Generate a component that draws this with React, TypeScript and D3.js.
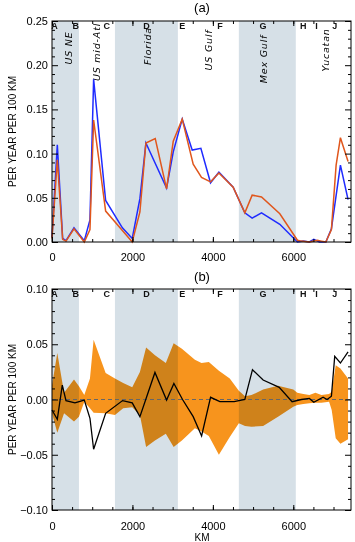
import React, { useRef, useEffect } from 'react';
import * as d3 from 'd3';

const W = 355;
const H = 542;

// panel (a): two estimates of the rate along the coast
const blueKm = [0, 132, 265, 348, 547, 803, 944, 1035, 1334, 1750, 1995, 2186, 2335, 2849, 3015, 3238, 3486, 3702, 3942, 4150, 4505, 4795, 4977, 5210, 5665, 6103, 6250, 6400, 6510, 6650, 6810, 6948, 7172, 7362];
const blueVal = [0.005, 0.110, 0.004, 0.0015, 0.016, 0.0015, 0.025, 0.184, 0.047, 0.016, 0.004, 0.049, 0.112, 0.061, 0.102, 0.139, 0.104, 0.106, 0.067, 0.079, 0.062, 0.033, 0.027, 0.033, 0.020, 0.000, 0.001, 0.0, 0.003, 0.0, 0.0, 0.015, 0.087, 0.048];
const orangeKm = [0, 132, 265, 348, 547, 803, 944, 1035, 1334, 1750, 1995, 2186, 2335, 2567, 2849, 3015, 3238, 3511, 3718, 3942, 4150, 4505, 4795, 4977, 5210, 5665, 6103, 6203, 6400, 6600, 6700, 6810, 6948, 7065, 7172, 7362];
const orangeVal = [0.004, 0.093, 0.003, 0.001, 0.015, 0.0, 0.014, 0.138, 0.035, 0.013, 0.0, 0.034, 0.112, 0.117, 0.060, 0.114, 0.139, 0.088, 0.073, 0.068, 0.078, 0.062, 0.033, 0.053, 0.051, 0.032, 0.002, 0.001, 0.0, 0.002, 0.001, 0.0, 0.014, 0.087, 0.118, 0.091];

// panel (b): difference and its uncertainty band
const diffKm = [0, 132, 256, 348, 571, 803, 944, 1035, 1334, 1755, 1995, 2186, 2560, 2849, 3031, 3246, 3511, 3720, 3943, 4174, 4530, 4795, 4985, 5250, 5650, 5970, 6203, 6400, 6510, 6741, 6840, 6948, 7030, 7172, 7362];
const diffVal = [-0.0095, -0.018, 0.013, -0.001, -0.003, -0.0005, -0.017, -0.045, -0.0125, -0.001, -0.003, -0.0155, 0.0245, -0.0005, 0.0146, 0.0, -0.0155, -0.033, 0.002, -0.002, -0.002, 0.0, 0.027, 0.0176, 0.011, -0.002, 0.0, 0.001, -0.0025, 0.002, 0.0, 0.003, 0.039, 0.033, 0.043];
const bandKm = [0, 132, 300, 547, 670, 803, 944, 1035, 1334, 1565, 1770, 1995, 2186, 2340, 2560, 2830, 3025, 3230, 3553, 3718, 3900, 4150, 4420, 4646, 4800, 4960, 5250, 5620, 6000, 6100, 6250, 6400, 6550, 6700, 6890, 6955, 7055, 7172, 7362];
const bandHi = [0.013, 0.042, 0.006, 0.018, 0.012, 0.004, 0.019, 0.054, 0.024, 0.019, 0.015, 0.011, 0.025, 0.047, 0.040, 0.033, 0.051, 0.046, 0.036, 0.033, 0.034, 0.026, 0.019, 0.008, 0.003, 0.004, 0.009, 0.0125, 0.009, 0.006, 0.005, 0.004, 0.006, 0.004, 0.005, 0.007, 0.031, 0.028, 0.019];
const bandLo = [-0.0125, -0.030, -0.0125, -0.020, -0.0155, -0.002, -0.008, -0.012, -0.0125, -0.014, -0.008, -0.007, -0.014, -0.043, -0.037, -0.031, -0.043, -0.037, -0.026, -0.029, -0.033, -0.050, -0.034, -0.0215, -0.024, -0.0246, -0.024, -0.0155, -0.0065, -0.005, -0.004, -0.0035, -0.003, -0.003, -0.002, -0.0095, -0.035, -0.040, -0.036];

// coastal segments
const shadeStart = [0, 1565, 4646];
const shadeEnd = [670, 3130, 6062];
const letters = ['A', 'B', 'C', 'D', 'E', 'F', 'G', 'H', 'I', 'J'];
const letterKm = [60, 588, 1360, 2350, 3240, 4175, 5250, 6245, 6575, 7030];
const regionNames = ['US NE', 'US mid-Atl', 'Florida', 'US Gulf', 'Mex Gulf', 'Yucatan'];
const regionKm = [400, 1110, 2370, 3890, 5255, 6810];

const xTicks = [0, 2000, 4000, 6000];
const yTicksA = [0, 0.05, 0.1, 0.15, 0.2, 0.25];
const yTicksB = [-0.1, -0.05, 0, 0.05, 0.1];

const FONT = 'Liberation Sans, Arial, sans-serif';

function App() {
  const svgRef = useRef(null);

  useEffect(() => {
    const svg = d3.select(svgRef.current);
    svg.selectAll('*').remove();

    const left = 52;
    const right = 351;
    const x = d3.scaleLinear().domain([0, 7435]).range([left, right]);
    const xMinor = d3.range(0, 7435, 500);

    const drawFrame = (y, top, bottom, major, minor, xLabelPad) => {
      const g = svg.append('g').attr('font-family', FONT);

      const ax = (gen, tx, ty) => {
        const a = g.append('g').attr('transform', `translate(${tx},${ty})`).call(gen);
        a.select('.domain').remove();
        a.selectAll('line').attr('stroke', '#000');
        a.selectAll('text').attr('fill', '#000').attr('font-size', 11).attr('font-family', FONT);
        return a;
      };

      ax(d3.axisLeft(y).tickValues(major).tickSize(-6).tickPadding(4).tickFormat(d3.format('.2f')), left, 0);
      ax(d3.axisLeft(y).tickValues(minor).tickSize(-3).tickFormat(() => ''), left, 0);
      ax(d3.axisRight(y).tickValues(major).tickSize(-6).tickFormat(() => ''), right, 0);
      ax(d3.axisRight(y).tickValues(minor).tickSize(-3).tickFormat(() => ''), right, 0);
      ax(d3.axisBottom(x).tickValues(xTicks).tickSize(-5).tickPadding(xLabelPad).tickFormat(d3.format('d')), 0, bottom);
      ax(d3.axisBottom(x).tickValues(xMinor).tickSize(-3).tickFormat(() => ''), 0, bottom);
      ax(d3.axisTop(x).tickValues(xTicks).tickSize(-5).tickFormat(() => ''), 0, top);
      ax(d3.axisTop(x).tickValues(xMinor).tickSize(-3).tickFormat(() => ''), 0, top);

      g.append('rect')
        .attr('x', left).attr('y', top)
        .attr('width', right - left).attr('height', bottom - top)
        .attr('fill', 'none').attr('stroke', '#000').attr('stroke-width', 1);

      // segment letters
      g.selectAll('text.letter')
        .data(letters)
        .enter()
        .append('text')
        .attr('class', 'letter')
        .attr('x', (d, i) => x(letterKm[i]))
        .attr('y', top + 8)
        .attr('text-anchor', 'middle')
        .attr('font-size', 9)
        .attr('font-weight', 'bold')
        .attr('fill', '#111')
        .text(d => d);

      // y label
      g.append('text')
        .attr('transform', `translate(16,${(top + bottom) / 2}) rotate(-90)`)
        .attr('text-anchor', 'middle')
        .attr('font-size', 10)
        .attr('fill', '#000')
        .text('PER YEAR PER 100 KM');
    };

    const drawShade = (top, bottom, blend) => {
      svg.append('g')
        .selectAll('rect')
        .data(shadeStart)
        .enter()
        .append('rect')
        .attr('x', (d) => x(d))
        .attr('y', top)
        .attr('width', (d, i) => x(shadeEnd[i]) - x(d))
        .attr('height', bottom - top)
        .attr('fill', '#d6e0e7')
        .style('mix-blend-mode', blend ? 'multiply' : 'normal');
    };

    // ---- panel (a)
    const topA = 21;
    const botA = 242;
    const yA = d3.scaleLinear().domain([0, 0.25]).range([botA, topA]);
    drawShade(topA, botA, false);

    const regionMid = [48, 52, 46, 50, 59, 50];
    svg.append('g')
      .selectAll('text')
      .data(regionNames)
      .enter()
      .append('text')
      .attr('transform', (d, i) => `translate(${x(regionKm[i]) + 3.5},${regionMid[i]}) rotate(-90)`)
      .attr('text-anchor', 'middle')
      .attr('font-family', 'DejaVu Sans, sans-serif')
      .attr('font-style', 'italic')
      .attr('font-size', 9.5)
      .attr('letter-spacing', 0.8)
      .attr('fill', '#000')
      .text(d => d);

    const lineA = d3.line().x(d => x(d[0])).y(d => yA(d[1]));
    svg.append('path')
      .datum(blueKm.map((k, i) => [k, blueVal[i]]))
      .attr('d', lineA)
      .attr('fill', 'none')
      .attr('stroke', '#1f2bff')
      .attr('stroke-width', 1.5);
    svg.append('path')
      .datum(orangeKm.map((k, i) => [k, orangeVal[i]]))
      .attr('d', lineA)
      .attr('fill', 'none')
      .attr('stroke', '#e0561c')
      .attr('stroke-width', 1.5);

    const minorA = d3.range(0, 0.2501, 0.01).filter(v => Math.round(v * 100) % 5 !== 0);
    drawFrame(yA, topA, botA, yTicksA, minorA, 11);

    svg.append('text')
      .attr('x', 202).attr('y', 12)
      .attr('text-anchor', 'middle')
      .attr('font-family', FONT)
      .attr('font-size', 13)
      .text('(a)');

    // ---- panel (b)
    const topB = 289;
    const botB = 510;
    const yB = d3.scaleLinear().domain([-0.1, 0.1]).range([botB, topB]);

    const area = d3.area()
      .x(d => x(d[0]))
      .y0(d => yB(d[1]))
      .y1(d => yB(d[2]));
    svg.append('path')
      .datum(bandKm.map((k, i) => [k, bandLo[i], bandHi[i]]))
      .attr('d', area)
      .attr('fill', '#f7941d');

    drawShade(topB, botB, true);

    svg.append('line')
      .attr('x1', left).attr('x2', right)
      .attr('y1', yB(0)).attr('y2', yB(0))
      .attr('stroke', '#666')
      .attr('stroke-width', 1)
      .attr('stroke-dasharray', '4,3');

    svg.append('path')
      .datum(diffKm.map((k, i) => [k, diffVal[i]]))
      .attr('d', d3.line().x(d => x(d[0])).y(d => yB(d[1])))
      .attr('fill', 'none')
      .attr('stroke', '#000')
      .attr('stroke-width', 1.3);

    const minorB = d3.range(-0.1, 0.1001, 0.01).filter(v => Math.round(Math.abs(v) * 100) % 5 !== 0);
    drawFrame(yB, topB, botB, yTicksB, minorB, 12);

    svg.append('text')
      .attr('x', 202).attr('y', 281)
      .attr('text-anchor', 'middle')
      .attr('font-family', FONT)
      .attr('font-size', 13)
      .text('(b)');

    svg.append('text')
      .attr('x', 202).attr('y', 541)
      .attr('text-anchor', 'middle')
      .attr('font-family', FONT)
      .attr('font-size', 10)
      .text('KM');
  }, []);

  return (
    <svg
      ref={svgRef}
      width={W}
      height={H}
      viewBox={`0 0 ${W} ${H}`}
      style={{ position: 'absolute', left: 0, top: 0, background: '#fff' }}
    />
  );
}

export default App;
